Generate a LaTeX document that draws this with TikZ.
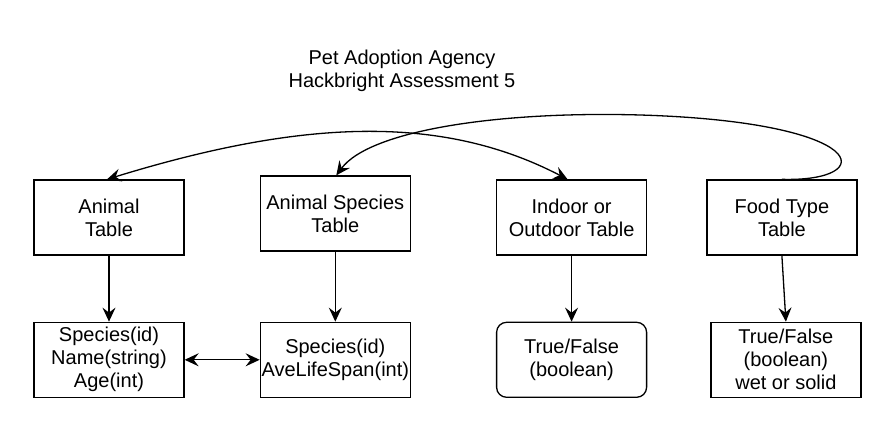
\documentclass[tikz,border=0pt]{standalone}
\usepackage{fontspec}
\setmainfont{Liberation Sans}
\usepackage{tikz}
\usetikzlibrary{positioning,arrows.meta}

\begin{document}
\begin{tikzpicture}[x=1pt, y=1pt, table/.style={rectangle, draw, line width=1.3pt, minimum width=150pt, minimum height=75pt, inner sep=1pt, align=center, font=\fontsize{20}{23}\selectfont}, link/.style={line width=1.3pt, -{Stealth[length=14pt, width=13pt, inset=5pt]}}, dlink/.style={line width=1.3pt, {Stealth[length=14pt, width=13pt, inset=5pt]}-{Stealth[length=14pt, width=13pt, inset=5pt]}}]

\useasboundingbox (0,0) rectangle (892,446);

\node(title) [align=center, font=\fontsize{20}{23}\selectfont] at (402,375.5) {Pet Adoption Agency\\Hackbright Assessment 5};

\node(animal) [table] at (109,228.5) {Animal\\Table};
\node(species) [table, right = 75pt of animal, yshift=4pt] {Animal Species\\Table};
\node(indoor) [table, right = 85pt of species, yshift=-4pt] {Indoor or\\Outdoor Table};
\node(food) [table, right = 59pt of indoor] {Food Type\\Table};

\node(animalcols) [table, below = 66pt of animal] {Species(id)\\Name(string)\\Age(int)};
\node(speciescols) [table, below = 70pt of species] {Species(id)\\AveLifeSpan(int)};
\node(indoorcols) [table, rounded corners=10pt, below = 66pt of indoor] {True/False\\(boolean)};
\node(foodcols) [table, below = 66pt of food, xshift=4pt] {True/False\\(boolean)\\wet or solid};

\coordinate (loop) at (640,331);

\draw[link] (animal) -- (animalcols);
\draw[link] (species) -- (speciescols);
\draw[link] (indoor) -- (indoorcols);
\draw[link] (food.south) -- (foodcols.north);
\draw[dlink] (animalcols) -- (speciescols);
\draw[dlink] ([xshift=-2pt]animal.north) .. controls (300,326) and (440,333) .. ([xshift=-4pt]indoor.north);
\draw[link] (food.north) .. controls (880,264) and (872,324) .. (loop) .. controls (500,335) and (370,316) .. ([xshift=1pt]species.north);
\end{tikzpicture}
\end{document}
